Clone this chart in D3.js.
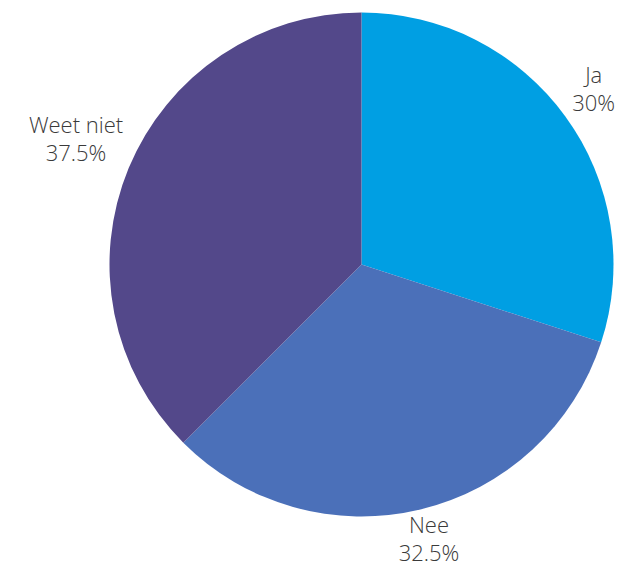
<!DOCTYPE html>
<html><head><meta charset="utf-8">
<script src="https://cdn.jsdelivr.net/npm/d3@7"></script>
<style>html,body{margin:0;padding:0;background:#fff;}</style>
</head><body>
<svg id="chart" width="620" height="566"></svg>
<script>
const categories = ["Ja", "Nee", "Weet niet"];
const values = [30, 32.5, 37.5];
const valueLabels = ["30%", "32.5%", "37.5%"];
const colors = ["#009fe3", "#4b70b9", "#53488a"];

const svg = d3.select("#chart");
const cx = 361.5, cy = 264.5, r = 252;
const g = svg.append("g").attr("transform", `translate(${cx},${cy})`);
const data = categories.map((c, i) => ({cat: c, value: values[i], label: valueLabels[i], color: colors[i]}));
const pie = d3.pie().value(d => d.value).sort(null);
const arc = d3.arc().innerRadius(0).outerRadius(r);
const arcs = pie(data);
g.selectAll("path").data(arcs).join("path")
  .attr("d", arc).attr("fill", d => d.data.color);

// label distance from centre, per slice (layout)
const labelRadius = [287, 289, 309];
arcs.forEach((a, i) => {
  const la = d3.arc().innerRadius(labelRadius[i]).outerRadius(labelRadius[i]);
  const [x, y] = la.centroid(a);
  const lg = g.append("g").attr("transform", `translate(${x},${y})`);
  [[a.data.cat, -13], [a.data.label, 15]].forEach(([txt, dy]) => {
    lg.append("text")
      .attr("text-anchor", "middle")
      .attr("font-family", "'Open Sans', sans-serif")
      .attr("font-weight", 300)
      .attr("font-size", 22)
      .attr("fill", "#3a3a3a")
      .attr("y", dy)
      .text(txt);
  });
});
</script>
</body></html>
